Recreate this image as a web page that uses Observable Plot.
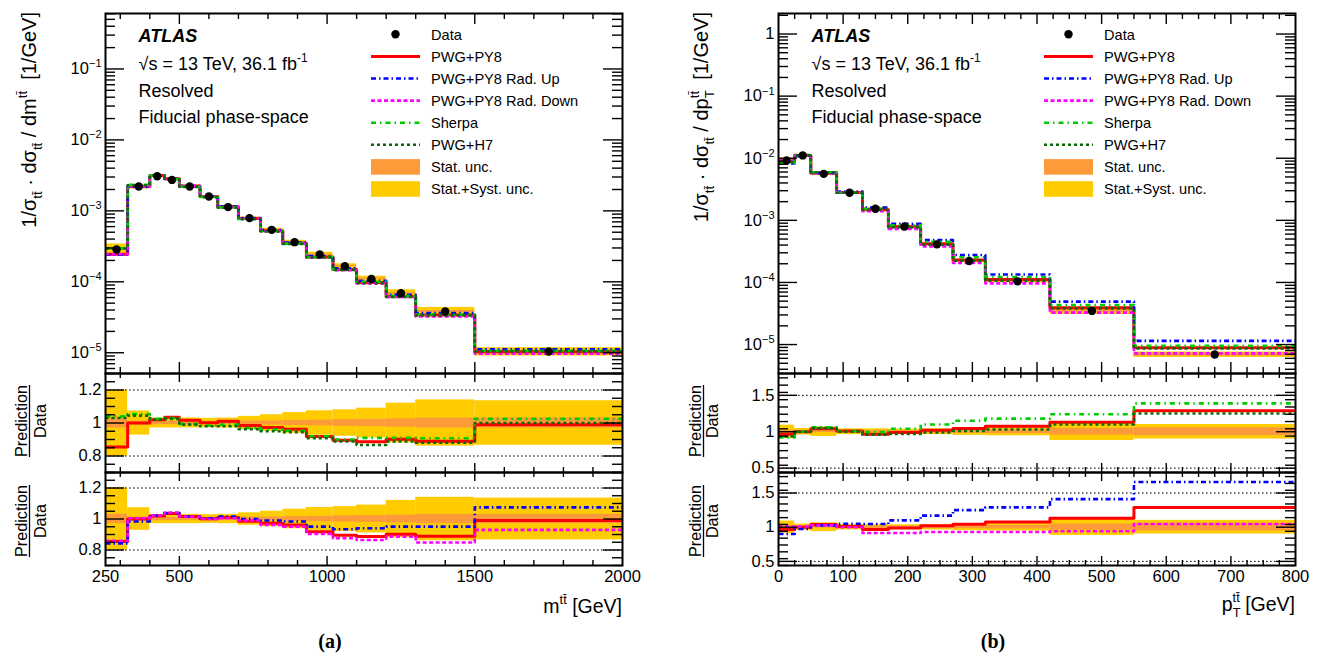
<!DOCTYPE html>
<html><head><meta charset="utf-8">
<script src="https://cdn.jsdelivr.net/npm/d3@7"></script>
<script src="https://cdn.jsdelivr.net/npm/@observablehq/plot@0.6"></script>
<style>
body{margin:0;background:#fff;}
#wrap{position:relative;width:1318px;height:657px;overflow:hidden;background:#fff;}
.panel{position:absolute;}
#overlay{position:absolute;left:0;top:0;pointer-events:none;}
#overlay text{white-space:pre;}
</style></head><body><div id="wrap"></div>
<script>
// ---------------- data: (a) m_tt ----------------
const mttEdges = [250, 325, 400, 450, 500, 570, 630, 700, 775, 850, 930, 1020, 1100, 1200, 1300, 1500, 2000];
const mttData = [2.85e-4, 2.2e-3, 3.08e-3, 2.73e-3, 2.2e-3, 1.59e-3, 1.13e-3, 7.9e-4, 5.4e-4, 3.62e-4, 2.43e-4, 1.66e-4, 1.1e-4, 6.9e-5, 3.82e-5, 1.04e-5];
const mttTotUnc = [0.2, 0.073, 0.03, 0.03, 0.03, 0.028, 0.03, 0.04, 0.05, 0.063, 0.074, 0.08, 0.09, 0.12, 0.14, 0.135];
const mttStatUnc = [0.03, 0.012, 0.01, 0.01, 0.01, 0.01, 0.01, 0.012, 0.012, 0.015, 0.017, 0.02, 0.022, 0.025, 0.03, 0.03];
const mttRatioPy8 = [0.855, 1.0, 1.02, 1.035, 1.016, 1.002, 1.01, 0.985, 0.972, 0.962, 0.918, 0.895, 0.887, 0.901, 0.889, 0.99];
const mttRatioRadUp = [0.843, 0.984, 1.023, 1.038, 1.016, 1.005, 1.016, 1.0, 0.99, 0.984, 0.951, 0.934, 0.94, 0.951, 0.951, 1.075];
const mttRatioRadDown = [0.86, 1.005, 1.023, 1.042, 1.016, 1.0, 1.005, 0.99, 0.962, 0.951, 0.904, 0.876, 0.865, 0.886, 0.848, 0.93];
const mttRatioSherpa = [1.04, 1.055, 1.025, 1.03, 0.995, 0.985, 0.99, 0.97, 0.96, 0.953, 0.92, 0.9, 0.91, 0.91, 0.908, 1.025];
const mttRatioH7 = [1.03, 1.045, 1.02, 1.025, 0.99, 0.98, 0.98, 0.963, 0.95, 0.945, 0.908, 0.888, 0.867, 0.888, 0.88, 1.0];

// ---------------- data: (b) pT_tt ----------------
const ptEdges = [0, 25, 50, 90, 130, 170, 220, 270, 320, 420, 550, 800];
const ptData = [9.2e-3, 1.11e-2, 5.6e-3, 2.78e-3, 1.54e-3, 7.98e-4, 4.1e-4, 2.21e-4, 1.04e-4, 3.48e-5, 6.9e-6];
const ptTotUnc = [0.09, 0.045, 0.065, 0.04, 0.04, 0.035, 0.04, 0.05, 0.055, 0.12, 0.10];
const ptStatUnc = [0.02, 0.012, 0.012, 0.012, 0.015, 0.015, 0.02, 0.02, 0.025, 0.045, 0.055];
const ptRatioPy8 = [0.965, 1.0, 1.04, 1.01, 0.965, 0.99, 1.02, 1.045, 1.075, 1.13, 1.29];
const ptRatioRadUp = [0.9, 0.973, 1.027, 1.05, 1.046, 1.1, 1.17, 1.25, 1.29, 1.41, 1.66];
const ptRatioRadDown = [1.01, 1.01, 1.027, 1.0, 0.915, 0.915, 0.93, 0.93, 0.93, 0.94, 1.046];
const ptRatioSherpa = [0.92, 1.0, 1.06, 1.01, 0.995, 1.04, 1.10, 1.15, 1.18, 1.24, 1.39];
const ptRatioH7 = [0.935, 1.0, 1.05, 1.0, 0.96, 0.97, 0.99, 1.01, 1.03, 1.10, 1.25];

// ---------------- tick labels ----------------
const mttXLabels = [250, 500, 1000, 1500, 2000];
const ptXLabels = [0, 100, 200, 300, 400, 500, 600, 700, 800];
const mttYLabels = [1e-5, 1e-4, 1e-3, 1e-2, 1e-1];
const ptYLabels = [1e-5, 1e-4, 1e-3, 1e-2, 1e-1, 1];
const mttRatioLabels = [0.8, 1, 1.2];
const ptRatioLabels = [0.5, 1, 1.5];
const legendLabels = ["Data", "PWG+PY8", "PWG+PY8 Rad. Up", "PWG+PY8 Rad. Down", "Sherpa", "PWG+H7", "Stat. unc.", "Stat.+Syst. unc."];

// ---------------- styles ----------------
const FONT = '"Liberation Sans", Arial, Helvetica, sans-serif';
const C = {py8:"#ff0000", up:"#0000ff", down:"#ff00ff", sherpa:"#00cc00", h7:"#076b07", stat:"#fd9a3a", tot:"#ffcc00"};
const DASH = {py8:null, up:"5,3,1.5,3", down:"4,2.5", sherpa:"5,4,1.5,4", h7:"3,3"};
const LW = {py8:3, up:2.6, down:2.6, sherpa:2.6, h7:2.6};
const FW = 517; // frame width

const wrap = document.getElementById("wrap");

function steps(edges, vals){ const r = vals.map((v,i)=>({x:edges[i], y:v})); r.push({x:edges[edges.length-1], y:vals[vals.length-1]}); return r; }
function bins(edges, n){ return d3.range(n).map(i=>({x1:edges[i], x2:edges[i+1], i})); }
function near(a,b){ return Math.abs(a-b)<1e-6; }
function logMinor(lo, hi){ const out=[]; for(let e=Math.floor(Math.log10(lo)); e<=Math.ceil(Math.log10(hi)); e++) for(let k=2;k<=9;k++){ const v=k*Math.pow(10,e); if(v>=lo && v<=hi) out.push(v);} return out; }
function linMinor(lo, hi, step, majors){ return d3.range(Math.round((hi-lo)/step)+1).map(i=>lo+i*step).filter(v=>!majors.some(m=>near(m,v))); }
const fmtPow = d => { const e = Math.round(Math.log10(d)); return e===0 ? "1" : "10^"+e; };

function tickMarks(o){
  const fh = o.fh, s = {stroke:"#000", strokeWidth:1.4};
  return [
    Plot.tickY(o.yMajor, {...s, insetRight: FW-19}),
    Plot.tickY(o.yMajor, {...s, insetLeft: FW-19}),
    Plot.tickY(o.yMinor, {...s, insetRight: FW-10}),
    Plot.tickY(o.yMinor, {...s, insetLeft: FW-10}),
    Plot.tickX(o.xMajor, {...s, insetTop: fh-o.xMaj}),
    Plot.tickX(o.xMajor, {...s, insetBottom: fh-o.xMaj}),
    Plot.tickX(o.xMinor, {...s, insetTop: fh-o.xMin}),
    Plot.tickX(o.xMinor, {...s, insetBottom: fh-o.xMin}),
    Plot.frame({stroke:"#000", strokeWidth:2})
  ];
}

function supify(svg){
  const ns = "http://www.w3.org/2000/svg";
  svg.querySelectorAll("text").forEach(t=>{
    const s = t.textContent; if(!s.includes("^")) return;
    const [b,e] = s.split("^"); t.textContent = "";
    const a = document.createElementNS(ns,"tspan"); a.textContent = b; t.appendChild(a);
    const c = document.createElementNS(ns,"tspan"); c.textContent = e.replace("-","\u2212");
    c.setAttribute("font-size","11px"); c.setAttribute("dy","-0.62em"); t.appendChild(c);
  });
}

function place(svg, left, top){ const d=document.createElement("div"); d.className="panel"; d.style.left=left+"px"; d.style.top=top+"px"; d.appendChild(svg); wrap.appendChild(d); }

const baseStyle = {fontFamily:FONT, fontSize:"16.5px", color:"#000", background:"transparent", overflow:"visible"};

function lineMark(edges, vals, key){
  return Plot.line(steps(edges, vals), {x:"x", y:"y", curve:"step-after", stroke:C[key], strokeWidth:LW[key], strokeDasharray:DASH[key], strokeLinecap:"butt"});
}

function buildSide(cfg){
  const {edges, data, tot, stat, ratios, xDomain, yDomain, rDomain, svgLeft, ml, mr, xMajor, xMinor, xLabels, yLabels, rLabels, rMinorStep, rGrid} = cfg;
  const n = data.length;
  const B = bins(edges, n);
  const centers = d3.range(n).map(i=>(edges[i]+edges[i+1])/2);
  const pred = k => data.map((d,i)=>d*ratios[k][i]);
  const svgW = ml + FW + mr;
  // ---- top panel ----
  const top = Plot.plot({
    width: svgW, height: 373, marginTop: 13, marginBottom: 0, marginLeft: ml, marginRight: mr,
    style: baseStyle,
    x: {type:"linear", domain:xDomain, axis:null},
    y: {type:"log", domain:yDomain, axis:null},
    marks: [
      Plot.rect(B, {x1:"x1", x2:"x2", y1:d=>data[d.i]*(1-tot[d.i]), y2:d=>data[d.i]*(1+tot[d.i]), fill:C.tot}),
      Plot.rect(B, {x1:"x1", x2:"x2", y1:d=>data[d.i]*(1-stat[d.i]), y2:d=>data[d.i]*(1+stat[d.i]), fill:C.stat}),
      ...["py8","up","down","sherpa","h7"].map(k=>lineMark(edges, pred(k), k)),
      Plot.dot(d3.range(n), {x:i=>centers[i], y:i=>data[i], r:4.2, fill:"#000", stroke:null}),
      ...tickMarks({fh:360, yMajor:yLabels, yMinor:logMinor(yDomain[0], yDomain[1]), xMajor, xMinor, xMaj:11, xMin:6}),
      Plot.axisY({ticks:yLabels, tickSize:0, tickPadding:4, tickFormat:fmtPow, label:null, anchor:"left"})
    ]
  });
  supify(top); place(top, svgLeft, 0);
  // ---- ratio panels ----
  const rMinor = linMinor(rDomain[0], rDomain[1], rMinorStep, rLabels).filter(v=>v>=rDomain[0]-1e-9 && v<=rDomain[1]+1e-9);
  const mkRatio = (keys, h, mb, withX) => Plot.plot({
    width: svgW, height: h+mb, marginTop: 0, marginBottom: mb, marginLeft: ml, marginRight: mr,
    style: baseStyle,
    x: {type:"linear", domain:xDomain, axis:null},
    y: {type:"linear", domain:rDomain, axis:null},
    marks: [
      Plot.rect(B, {x1:"x1", x2:"x2", y1:d=>1-tot[d.i], y2:d=>1+tot[d.i], fill:C.tot}),
      Plot.rect(B, {x1:"x1", x2:"x2", y1:d=>1-stat[d.i], y2:d=>1+stat[d.i], fill:C.stat}),
      Plot.ruleY(rGrid, {stroke:"#000", strokeWidth:1, strokeDasharray:"1.6,2.4"}),
      ...keys.map(k=>lineMark(edges, ratios[k], k)),
      ...tickMarks({fh:h, yMajor:rLabels, yMinor:rMinor, xMajor, xMinor, xMaj:9, xMin:5}),
      Plot.axisY({ticks:rLabels, tickSize:0, tickPadding:4, tickFormat:d=>String(d), label:null, anchor:"left"}),
      ...(withX ? [Plot.axisX({ticks:xLabels, tickSize:0, tickPadding:5, tickFormat:d=>String(d), label:null, anchor:"bottom"})] : [])
    ]
  });
  place(mkRatio(["py8","sherpa","h7"], 99, 0, false), svgLeft, 373);
  place(mkRatio(["py8","up","down"], 93, 45, true), svgLeft, 472);
}

buildSide({
  edges: mttEdges, data: mttData, tot: mttTotUnc, stat: mttStatUnc,
  ratios: {py8:mttRatioPy8, up:mttRatioRadUp, down:mttRatioRadDown, sherpa:mttRatioSherpa, h7:mttRatioH7},
  xDomain:[250,2000], yDomain:[5.1e-6, 0.605], rDomain:[0.7,1.3],
  svgLeft:0, ml:105, mr:18,
  xMajor:[500,1000,1500], xMinor:linMinor(300,1900,100,[500,1000,1500]),
  xLabels:mttXLabels, yLabels:mttYLabels, rLabels:mttRatioLabels, rMinorStep:0.05, rGrid:[0.8,1.2]
});
buildSide({
  edges: ptEdges, data: ptData, tot: ptTotUnc, stat: ptStatUnc,
  ratios: {py8:ptRatioPy8, up:ptRatioRadUp, down:ptRatioRadDown, sherpa:ptRatioSherpa, h7:ptRatioH7},
  xDomain:[0,800], yDomain:[3.42e-6, 2.14], rDomain:[0.44,1.8],
  svgLeft:660, ml:118, mr:23,
  xMajor:[100,200,300,400,500,600,700], xMinor:linMinor(25,775,25,[100,200,300,400,500,600,700]),
  xLabels:ptXLabels, yLabels:ptYLabels, rLabels:ptRatioLabels, rMinorStep:0.1, rGrid:[0.5,1.5]
});

// ---------------- overlay text & legends ----------------
const ov = d3.select(wrap).append("svg").attr("id","overlay").attr("width",1318).attr("height",657)
  .attr("font-family", FONT);

function rich(x, y, size, parts, opts={}){
  const t = ov.append("text").attr("x",x).attr("y",y).attr("font-size",size).attr("fill","#000");
  if(opts.anchor) t.attr("text-anchor", opts.anchor);
  if(opts.rotate) t.attr("transform", `rotate(${opts.rotate},${x},${y})`);
  if(opts.weight) t.attr("font-weight", opts.weight);
  if(opts.fstyle) t.attr("font-style", opts.fstyle);
  if(opts.family) t.attr("font-family", opts.family);
  let cur = 0;
  for(const p of parts){
    const s = typeof p === "string" ? {t:p} : p;
    const shift = s.sub ? size*0.32 : s.sup ? -size*0.45 : 0;
    const ts = t.append("tspan").text(s.t).attr("dy", (shift-cur).toFixed(2));
    if(s.sub || s.sup) ts.attr("font-size", (size*0.66).toFixed(2));
    if(s.dx) ts.attr("dx", s.dx);
    cur = shift;
  }
  return t;
}
const TT = "t t\u0304".replace(" ","");

// y titles
rich(36, 12, 20, ["1/σ", {t:TT, sub:true}, " · dσ", {t:TT, sub:true}, " / dm", {t:TT, sup:true}, "  [1/GeV]"], {anchor:"end", rotate:-90});
rich(708, 12, 20, ["1/σ", {t:TT, sub:true}, " · dσ", {t:TT, sub:true}, " / dp", {t:"T", sub:true}, {t:TT, sup:true, dx:-8}, "  [1/GeV]"], {anchor:"end", rotate:-90});
// x titles
rich(622, 613, 19.5, ["m", {t:TT, sup:true}, " [GeV]"], {anchor:"end"});
rich(1295, 611, 19.5, ["p", {t:"T", sub:true}, {t:TT, sup:true, dx:-8}, " [GeV]"], {anchor:"end"});

// ratio titles
function ratioTitle(xP, xLine, xD, cy){
  rich(xP, cy, 16.2, ["Prediction"], {anchor:"middle", rotate:-90});
  rich(xD, cy, 16.2, ["Data"], {anchor:"middle", rotate:-90});
  ov.append("line").attr("x1", xLine).attr("x2", xLine).attr("y1", cy-36).attr("y2", cy+36).attr("stroke","#000").attr("stroke-width",1.3);
}
ratioTitle(27, 29.5, 45.5, 421); ratioTitle(27, 29.5, 45.5, 521);
ratioTitle(701, 703.5, 718, 421); ratioTitle(701, 703.5, 718, 521);

// ATLAS labels + legend
function sideText(fx){
  rich(fx+33.6, 42.2, 18, ["ATLAS"], {weight:"bold", fstyle:"italic"});
  rich(fx+33.6, 69.8, 18, ["√s = 13 TeV, 36.1 fb", {t:"-1", sup:true}]);
  rich(fx+33.6, 96.5, 18, ["Resolved"]);
  rich(fx+33.6, 123.2, 18, ["Fiducial phase-space"]);
  const x0 = fx+266, x1 = fx+315, keys = [null,"py8","up","down","sherpa","h7"];
  legendLabels.forEach((lab,i)=>{
    const cy = 34.3 + i*22.1;
    if(i===0) ov.append("circle").attr("cx", fx+290.5).attr("cy", cy).attr("r", 4.2).attr("fill","#000");
    else if(i<=5){ const k=keys[i]; const l = ov.append("line").attr("x1",x0).attr("x2",x1).attr("y1",cy).attr("y2",cy).attr("stroke",C[k]).attr("stroke-width",LW[k]); if(DASH[k]) l.attr("stroke-dasharray",DASH[k]); }
    else ov.append("rect").attr("x",x0).attr("y",cy-7.8).attr("width",x1-x0).attr("height",15.6).attr("fill", i===6?C.stat:C.tot);
    rich(fx+326, cy+5.2, 14.6, [lab]);
  });
}
sideText(105); sideText(778);

// captions
rich(330, 648, 20, ["(a)"], {anchor:"middle", weight:"bold", family:'"Liberation Serif", "Times New Roman", serif'});
rich(993, 648, 20, ["(b)"], {anchor:"middle", weight:"bold", family:'"Liberation Serif", "Times New Roman", serif'});
</script></body></html>
